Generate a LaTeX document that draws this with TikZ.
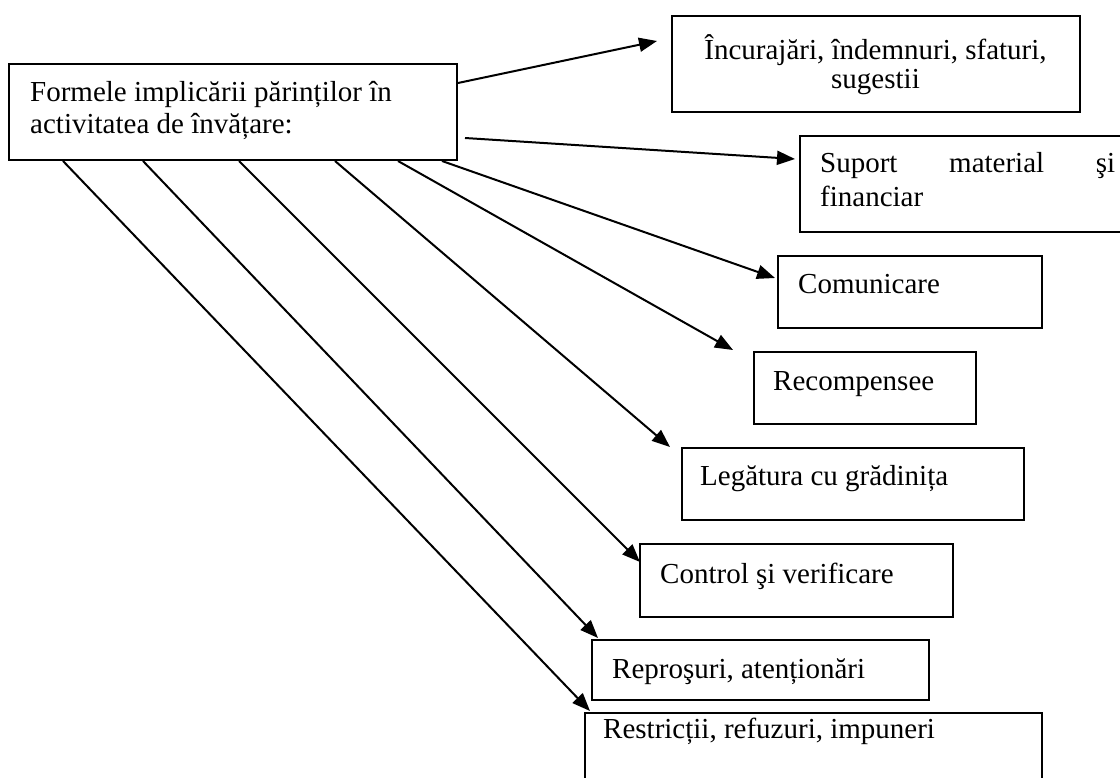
\documentclass[tikz,border=0pt]{standalone}
\usepackage{fontspec}
\setmainfont{Liberation Serif}
\usetikzlibrary{arrows.meta,calc}
\begin{document}
\begin{tikzpicture}[x=1pt,y=-1pt,
  box/.style={draw, line width=2pt, inner sep=0pt, anchor=north west},
  txt/.style={inner sep=0pt, font=\fontsize{29}{32}\selectfont},
  arr/.style={line width=2pt, -{Triangle[length=18pt,width=14pt]}}]
\clip (0,0) rectangle (1120,778);
\fill[white] (0,0) rectangle (1120,778);
% boxes
\node[box, minimum width=448pt, minimum height=96pt] (main) at (8,63) {};
\node[box, minimum width=408pt, minimum height=96pt] (b1) at (671,15) {};
\node[box, minimum width=340pt, minimum height=96pt] (b2) at (799,135) {};
\node[box, minimum width=264pt, minimum height=72pt] (b3) at (777,255) {};
\node[box, minimum width=222pt, minimum height=72pt] (b4) at (753,351) {};
\node[box, minimum width=342pt, minimum height=72pt] (b5) at (681,447) {};
\node[box, minimum width=313pt, minimum height=73pt] (b6) at (639,543) {};
\node[box, minimum width=337pt, minimum height=60pt] (b7) at (591,639) {};
\node[box, minimum width=457pt, minimum height=90pt] (b8) at (584,712) {};
% texts
\node[txt, anchor=base west] (t0a) at (30,102) {Formele implicării părinților în};
\node[txt, anchor=base west] (t0b) at (30,134) {activitatea de învățare:};
\node[txt, anchor=base] (t1a) at (875.5,60) {Încurajări, îndemnuri, sfaturi,};
\node[txt, anchor=base] (t1b) at (875.5,89) {sugestii};
\node[txt, anchor=base west] (t2a) at (820,173) {\makebox[295pt][s]{Suport material şi}};
\node[txt, anchor=base west] (t2b) at (820,207) {financiar};
\node[txt, anchor=base west] (t3) at (798,294) {Comunicare};
\node[txt, anchor=base west] (t4) at (773,390) {Recompensee};
\node[txt, anchor=base west] (t5) at (700,485) {Legătura cu grădinița};
\node[txt, anchor=base west] (t6) at (660,583) {Control şi verificare};
\node[txt, anchor=base west] (t7) at (612,678) {Reproşuri, atenționări};
\node[txt, anchor=base west] (t8) at (603,738) {Restricții, refuzuri, impuneri};
% connectors
\draw[arr] ($(main.north east)+(0,20)$) -- ($(b1.north west)+(-14,26)$);
\draw[arr] ($(main.south east)+(7,-23)$) -- ($(b2.north west)+(-4,24)$);
\draw[arr] ($(main.south west)+(434,0)$) -- ($(b3.north west)+(-2,23)$);
\draw[arr] ($(main.south west)+(390,0)$) -- ($(b4.north west)+(-20,-1)$);
\draw[arr] ($(main.south west)+(327,0)$) -- ($(b5.north west)+(-11,0)$);
\draw[arr] ($(main.south west)+(231,0)$) -- ($(b6.north west)+(1,19)$);
\draw[arr] ($(main.south west)+(135,0)$) -- ($(b7.north west)+(7,-1)$);
\draw[arr] ($(main.south west)+(55,0)$) -- ($(b8.north west)+(6,-1)$);
\end{tikzpicture}
\end{document}
